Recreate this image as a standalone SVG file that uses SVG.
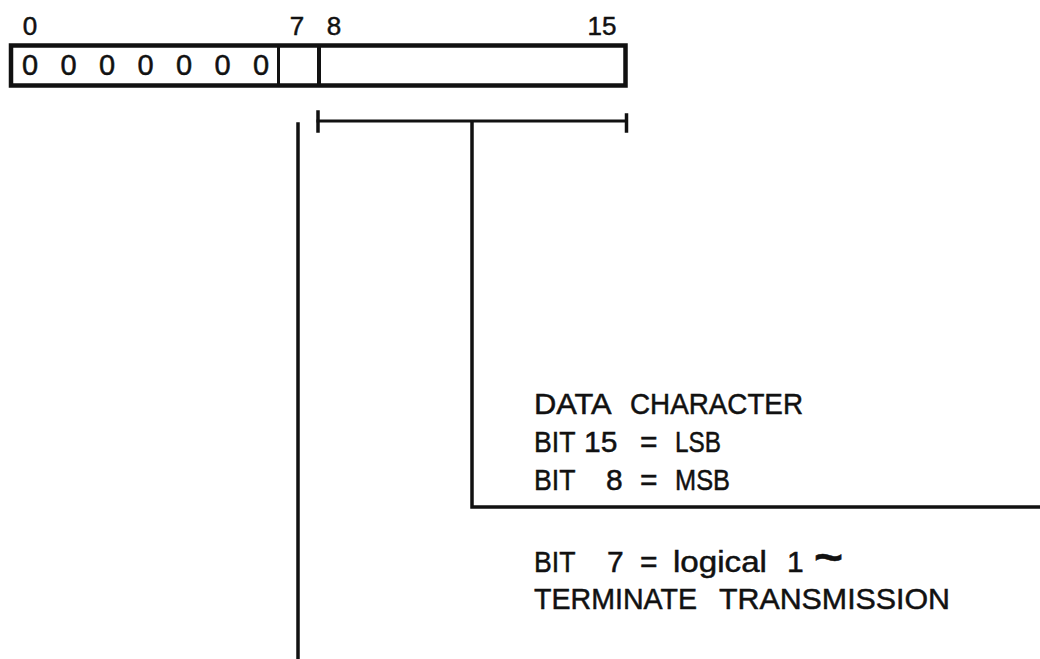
<svg xmlns="http://www.w3.org/2000/svg" width="1040" height="659" viewBox="0 0 1040 659">
<style>
.ln{stroke:#111;fill:none;stroke-linecap:square}
.t{font-family:"Liberation Sans",Arial,sans-serif;fill:#111;stroke:#111;stroke-width:0.5}
.lbl{font-size:30px}
.hd{font-size:26px;text-anchor:middle}
.z{font-size:29px;text-anchor:middle}
</style>
<rect width="1040" height="659" fill="#fff"/>
<g id="register">
<rect x="11" y="45.5" width="614.5" height="40" class="ln" stroke-width="4.5"/>
<line x1="278.5" y1="46" x2="278.5" y2="85" class="ln" stroke-width="3"/>
<line x1="319" y1="46" x2="319" y2="85" class="ln" stroke-width="4"/>
<text class="t hd" y="35"><tspan x="30">0</tspan><tspan x="297">7</tspan><tspan x="334">8</tspan><tspan x="602">15</tspan></text>
<text class="t z" y="75" x="30 49 68.5 88 107 126 145.5 165 184 203 222.5 242 261">0 0 0 0 0 0 0</text>
</g>
<g id="connectors">
<line x1="318" y1="121" x2="626" y2="121" class="ln" stroke-width="3"/>
<line x1="318" y1="112" x2="318" y2="131" class="ln" stroke-width="3.5"/>
<line x1="626.5" y1="115" x2="626.5" y2="131" class="ln" stroke-width="3.5"/>
<polyline points="472,122 472,507 1040,507" class="ln" stroke-width="3.5" stroke-linecap="butt"/>
<line x1="298" y1="124" x2="298" y2="659" class="ln" stroke-width="3.5" stroke-linecap="butt"/>
</g>
<g id="data-label">
<text class="t lbl" y="414"><tspan x="534" textLength="76" lengthAdjust="spacingAndGlyphs">DATA</tspan> <tspan x="630" textLength="173" lengthAdjust="spacingAndGlyphs">CHARACTER</tspan></text>
<text class="t lbl" y="452"><tspan x="534" textLength="41" lengthAdjust="spacingAndGlyphs">BIT</tspan> <tspan x="584">15</tspan> <tspan x="640">=</tspan> <tspan x="675" textLength="46" lengthAdjust="spacingAndGlyphs">LSB</tspan></text>
<text class="t lbl" y="490"><tspan x="534" textLength="41" lengthAdjust="spacingAndGlyphs">BIT</tspan> <tspan x="606">8</tspan> <tspan x="640">=</tspan> <tspan x="675" textLength="55" lengthAdjust="spacingAndGlyphs">MSB</tspan></text>
</g>
<g id="terminate-label">
<text class="t lbl" y="572"><tspan x="534" textLength="41" lengthAdjust="spacingAndGlyphs">BIT</tspan> <tspan x="607">7</tspan> <tspan x="640">=</tspan> <tspan x="673" textLength="94" lengthAdjust="spacingAndGlyphs">logical</tspan> <tspan x="787">1</tspan> <tspan x="814" font-size="44" font-weight="bold" textLength="29" lengthAdjust="spacingAndGlyphs">~</tspan></text>
<text class="t lbl" y="609"><tspan x="534" textLength="163" lengthAdjust="spacingAndGlyphs">TERMINATE</tspan> <tspan x="719" textLength="231" lengthAdjust="spacingAndGlyphs">TRANSMISSION</tspan></text>
</g>
</svg>
